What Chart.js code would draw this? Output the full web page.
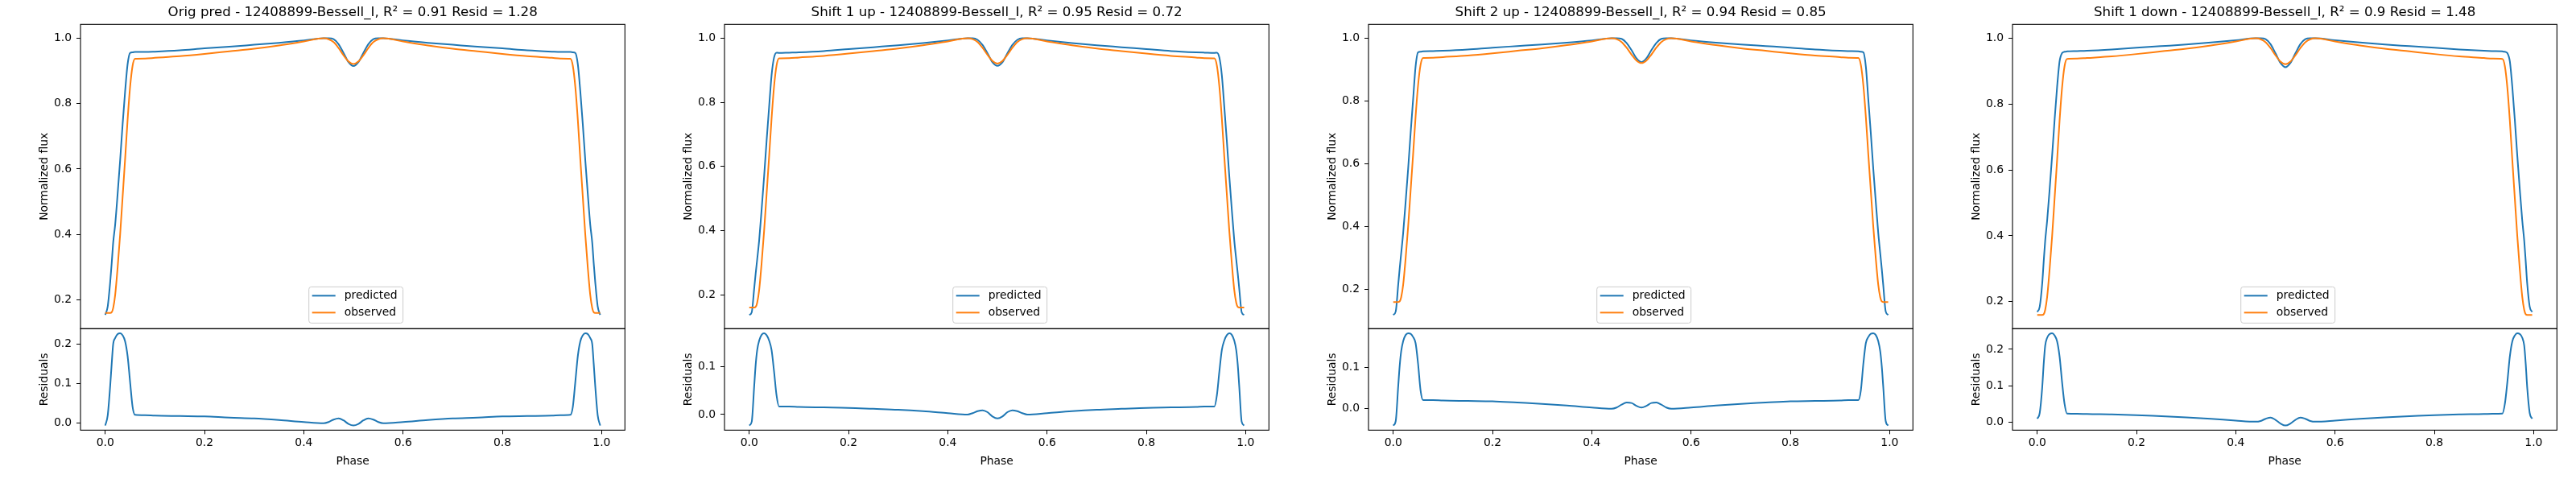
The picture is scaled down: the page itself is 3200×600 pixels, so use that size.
<!DOCTYPE html>
<html>
<head>
<meta charset="utf-8">
<script src="https://cdn.jsdelivr.net/npm/chart.js@4.4.1/dist/chart.umd.min.js"></script>
<style>
  html, body { margin: 0; padding: 0; background: #fff; }
  #wrap { position: relative; width: 3200px; height: 600px; }
  .panel { position: absolute; top: 0; width: 800px; height: 600px; }
</style>
</head>
<body>
<div id="wrap">
  <div class="panel" style="left:0px"><canvas id="c0" width="800" height="600"></canvas></div>
  <div class="panel" style="left:800px"><canvas id="c1" width="800" height="600"></canvas></div>
  <div class="panel" style="left:1600px"><canvas id="c2" width="800" height="600"></canvas></div>
  <div class="panel" style="left:2400px"><canvas id="c3" width="800" height="600"></canvas></div>
</div>
<script>
const phase = [0, 0.005, 0.01, 0.013, 0.016, 0.02, 0.025, 0.03, 0.035, 0.04, 0.045, 0.05, 0.055, 0.06,
  0.08, 0.1, 0.15, 0.2, 0.25, 0.3, 0.35, 0.4, 0.44, 0.45, 0.46, 0.47, 0.48, 0.49,
  0.5,
  0.51, 0.52, 0.53, 0.54, 0.55, 0.56, 0.6, 0.65, 0.7, 0.75, 0.8, 0.85, 0.9, 0.917,
  0.937, 0.942, 0.947, 0.952, 0.957, 0.962, 0.967, 0.972, 0.977, 0.981, 0.984, 0.987, 0.992, 0.997]

const observed = [0.16, 0.16, 0.16, 0.162, 0.175, 0.215, 0.30, 0.40, 0.515, 0.63, 0.75, 0.85, 0.915, 0.937,
  0.938, 0.940, 0.945, 0.952, 0.960, 0.968, 0.978, 0.990, 1.0, 0.997, 0.988, 0.970, 0.948, 0.929,
  0.921,
  0.929, 0.948, 0.970, 0.988, 0.997, 1.0, 0.990, 0.978, 0.968, 0.960, 0.952, 0.945, 0.940, 0.938,
  0.937, 0.915, 0.85, 0.75, 0.63, 0.515, 0.40, 0.30, 0.215, 0.175, 0.162, 0.16, 0.16, 0.16]

const predOrig = [0.154, 0.18, 0.255, 0.312, 0.375, 0.43, 0.525, 0.627, 0.737, 0.837, 0.92, 0.955, 0.957, 0.958,
  0.958, 0.959, 0.963, 0.969, 0.974, 0.980, 0.986, 0.993, 1.0, 1.0, 0.997, 0.982, 0.955, 0.927,
  0.915,
  0.927, 0.955, 0.982, 0.997, 1.0, 1.0, 0.993, 0.986, 0.980, 0.974, 0.969, 0.963, 0.959, 0.958,
  0.958, 0.957, 0.955, 0.92, 0.837, 0.737, 0.627, 0.525, 0.43, 0.375, 0.312, 0.255, 0.18, 0.154]

const residOrig = [-0.006, 0.02, 0.095, 0.15, 0.2, 0.215, 0.225, 0.227, 0.222, 0.207, 0.17, 0.105, 0.042, 0.021,
  0.02, 0.019, 0.018, 0.017, 0.014, 0.012, 0.008, 0.003, 0.0, 0.003, 0.009, 0.012, 0.007, -0.002,
  -0.006,
  -0.002, 0.007, 0.012, 0.009, 0.003, 0.0, 0.003, 0.008, 0.012, 0.014, 0.017, 0.018, 0.019, 0.02,
  0.021, 0.042, 0.105, 0.17, 0.207, 0.222, 0.227, 0.225, 0.215, 0.2, 0.15, 0.095, 0.02, -0.006]

const predUp1 = [0.137, 0.145, 0.22, 0.267, 0.31, 0.37, 0.467, 0.57, 0.681, 0.785, 0.885, 0.94, 0.955, 0.954,
  0.955, 0.956, 0.96, 0.966, 0.972, 0.978, 0.985, 0.993, 1.0, 1.0, 0.995, 0.979, 0.953, 0.925,
  0.914,
  0.925, 0.953, 0.979, 0.995, 1.0, 1.0, 0.993, 0.985, 0.978, 0.972, 0.966, 0.96, 0.956, 0.955,
  0.954, 0.955, 0.94, 0.885, 0.785, 0.681, 0.57, 0.467, 0.37, 0.31, 0.267, 0.22, 0.145, 0.137]

const residUp1 = [-0.023, -0.015, 0.06, 0.105, 0.135, 0.155, 0.167, 0.17, 0.166, 0.155, 0.135, 0.09, 0.04, 0.017,
  0.017, 0.016, 0.015, 0.014, 0.012, 0.010, 0.007, 0.003, 0.0, 0.003, 0.007, 0.009, 0.005, -0.004,
  -0.008,
  -0.004, 0.005, 0.009, 0.007, 0.003, 0.0, 0.003, 0.007, 0.010, 0.012, 0.014, 0.015, 0.016, 0.017,
  0.017, 0.04, 0.09, 0.135, 0.155, 0.166, 0.17, 0.167, 0.155, 0.135, 0.105, 0.06, -0.015, -0.023]

const predUp2 = [0.119, 0.13, 0.215, 0.267, 0.315, 0.38, 0.48, 0.584, 0.698, 0.805, 0.91, 0.955, 0.957, 0.958,
  0.959, 0.96, 0.964, 0.97, 0.975, 0.98, 0.986, 0.993, 1.0, 1.0, 0.998, 0.985, 0.962, 0.936,
  0.924,
  0.936, 0.962, 0.985, 0.998, 1.0, 1.0, 0.993, 0.986, 0.98, 0.975, 0.97, 0.964, 0.96, 0.959,
  0.958, 0.957, 0.955, 0.91, 0.805, 0.698, 0.584, 0.48, 0.38, 0.315, 0.267, 0.215, 0.13, 0.119]

const residUp2 = [-0.041, -0.03, 0.055, 0.105, 0.14, 0.165, 0.18, 0.184, 0.183, 0.175, 0.16, 0.11, 0.045, 0.021,
  0.021, 0.02, 0.019, 0.018, 0.015, 0.012, 0.008, 0.003, 0.0, 0.003, 0.01, 0.015, 0.014, 0.007,
  0.003,
  0.007, 0.014, 0.015, 0.01, 0.003, 0.0, 0.003, 0.008, 0.012, 0.015, 0.018, 0.019, 0.02, 0.021,
  0.021, 0.045, 0.11, 0.16, 0.175, 0.183, 0.184, 0.18, 0.165, 0.14, 0.105, 0.055, -0.03, -0.041]

const predDown1 = [0.169, 0.185, 0.255, 0.322, 0.385, 0.447, 0.542, 0.644, 0.753, 0.852, 0.93, 0.955, 0.959, 0.96,
  0.961, 0.962, 0.966, 0.971, 0.976, 0.981, 0.987, 0.994, 1.0, 1.0, 0.997, 0.982, 0.954, 0.925,
  0.912,
  0.925, 0.954, 0.982, 0.997, 1.0, 1.0, 0.994, 0.987, 0.981, 0.976, 0.971, 0.966, 0.962, 0.961,
  0.96, 0.959, 0.955, 0.93, 0.852, 0.753, 0.644, 0.542, 0.447, 0.385, 0.322, 0.255, 0.185, 0.169]

const residDown1 = [0.009, 0.025, 0.095, 0.16, 0.21, 0.232, 0.242, 0.244, 0.238, 0.222, 0.18, 0.11, 0.05, 0.0235,
  0.023, 0.022, 0.021, 0.019, 0.016, 0.013, 0.009, 0.004, 0.001, 0.003, 0.009, 0.0125, 0.006, -0.004,
  -0.0096,
  -0.004, 0.006, 0.0125, 0.009, 0.003, 0.001, 0.004, 0.009, 0.013, 0.016, 0.019, 0.021, 0.022, 0.023,
  0.0235, 0.05, 0.11, 0.18, 0.222, 0.238, 0.244, 0.242, 0.232, 0.21, 0.16, 0.095, 0.025, 0.009]

const panelNames = ['Orig pred', 'Shift 1 up', 'Shift 2 up', 'Shift 1 down']
const starName = '12408899-Bessell_I'
const r2Values = ['0.91', '0.95', '0.94', '0.9']
const residValues = ['1.28', '0.72', '0.85', '1.48']

const phaseTicks = [0, 0.2, 0.4, 0.6, 0.8, 1.0]
const fluxTicks = [0.2, 0.4, 0.6, 0.8, 1.0]
const residTicks = [[0, 0.1, 0.2], [0, 0.1], [0, 0.1], [0, 0.1, 0.2]]

const predicted = [predOrig, predUp1, predUp2, predDown1]
const residuals = [residOrig, residUp1, residUp2, residDown1]

const BLUE = '#1f77b4'
const ORANGE = '#ff7f0e'
const FONT = "'DejaVu Sans', sans-serif"

Chart.defaults.font.family = FONT
Chart.defaults.font.size = 13.9
Chart.defaults.color = '#000'

const toPoints = ys => phase.map((p, i) => ({ x: p, y: ys[i] }))

// matplotlib style 5% autoscale margin
const padRange = arrs => {
  const all = arrs.flat()
  const lo = Math.min(...all)
  const hi = Math.max(...all)
  const m = (hi - lo) * 0.05
  return { min: lo - m, max: hi + m }
}

const fixTicks = vals => scale => { scale.ticks = vals.map(v => ({ value: v })) }

const tickGrid = { drawOnChartArea: false, drawTicks: true, tickLength: 5, color: '#000', lineWidth: 1 }

const framePlugin = {
  id: 'frame',
  afterDatasetsDraw(chart) {
    const { ctx, chartArea } = chart
    ctx.save()
    ctx.strokeStyle = '#000'
    ctx.lineWidth = 1.1
    ;['yTop', 'yBot'].forEach(id => {
      const s = chart.scales[id]
      ctx.strokeRect(chartArea.left, s.top, chartArea.right - chartArea.left, s.bottom - s.top)
    })
    ctx.restore()
  }
}

const legendPlugin = {
  id: 'boxLegend',
  afterDraw(chart) {
    const { ctx, chartArea } = chart
    const s = chart.scales.yTop
    const items = chart.data.datasets.filter(d => d.yAxisID === 'yTop')
    ctx.save()
    ctx.font = '13.9px ' + FONT
    const textW = Math.max(...items.map(d => ctx.measureText(d.label).width))
    const w = 4 + 29 + 11 + textW + 7
    const h = 45
    const x0 = (chartArea.left + chartArea.right) / 2 - w / 2 + 4
    const y0 = s.bottom - 7 - h
    ctx.beginPath()
    ctx.roundRect(x0, y0, w, h, 3)
    ctx.fillStyle = 'rgba(255,255,255,0.8)'
    ctx.fill()
    ctx.strokeStyle = '#cccccc'
    ctx.lineWidth = 1
    ctx.stroke()
    items.forEach((d, i) => {
      const y = y0 + 11 + i * 21
      ctx.beginPath()
      ctx.moveTo(x0 + 4, y)
      ctx.lineTo(x0 + 33, y)
      ctx.strokeStyle = d.borderColor
      ctx.lineWidth = 2
      ctx.stroke()
      ctx.fillStyle = '#000'
      ctx.textBaseline = 'middle'
      ctx.textAlign = 'left'
      ctx.fillText(d.label, x0 + 44, y)
    })
    ctx.restore()
  }
}

const makePanel = k => {
  const topRange = padRange([predicted[k], observed])
  const botRange = padRange([residuals[k]])
  const xRange = padRange([phase])

  new Chart(document.getElementById('c' + k), {
    type: 'line',
    data: {
      datasets: [
        { label: 'predicted', data: toPoints(predicted[k]), yAxisID: 'yTop', borderColor: BLUE, order: 1 },
        { label: 'observed', data: toPoints(observed), yAxisID: 'yTop', borderColor: ORANGE, order: 0 },
        { label: 'residuals', data: toPoints(residuals[k]), yAxisID: 'yBot', borderColor: BLUE, order: 2 }
      ]
    },
    options: {
      responsive: false,
      animation: false,
      devicePixelRatio: 1,
      layout: { padding: { left: 43, right: 23.7, top: 0, bottom: 14.65 } },
      elements: {
        line: { borderWidth: 2, cubicInterpolationMode: 'monotone', fill: false },
        point: { radius: 0 }
      },
      plugins: {
        legend: { display: false },
        tooltip: { enabled: false },
        title: {
          display: true,
          fullSize: false,
          text: `${panelNames[k]} - ${starName}, R² = ${r2Values[k]} Resid = ${residValues[k]}`,
          font: { size: 16.67, weight: 'normal' },
          color: '#000',
          padding: { top: 5.7, bottom: 4.6 }
        }
      },
      scales: {
        x: {
          type: 'linear',
          position: 'bottom',
          min: xRange.min,
          max: xRange.max,
          afterBuildTicks: fixTicks(phaseTicks),
          afterFit: s => { s.height = 51 },
          ticks: { callback: v => v.toFixed(1), padding: 3, maxRotation: 0, autoSkip: false },
          grid: tickGrid,
          border: { display: false },
          title: { display: true, text: 'Phase', padding: { top: 0, bottom: 4 } }
        },
        yTop: {
          type: 'linear',
          position: 'left',
          stack: 'panel',
          stackWeight: 3,
          weight: 2,
          min: topRange.min,
          max: topRange.max,
          afterBuildTicks: fixTicks(fluxTicks),
          afterFit: s => { s.width = 57 },
          ticks: { callback: v => v.toFixed(1), padding: 6, autoSkip: false },
          grid: tickGrid,
          border: { display: false },
          title: { display: true, text: 'Normalized flux', padding: { top: 4, bottom: 0 } }
        },
        yBot: {
          type: 'linear',
          position: 'left',
          stack: 'panel',
          stackWeight: 1,
          weight: 1,
          min: botRange.min,
          max: botRange.max,
          afterBuildTicks: fixTicks(residTicks[k]),
          afterFit: s => { s.width = 57 },
          ticks: { callback: v => v.toFixed(1), padding: 6, autoSkip: false },
          grid: tickGrid,
          border: { display: false },
          title: { display: true, text: 'Residuals', padding: { top: 4, bottom: 0 } }
        }
      }
    },
    plugins: [framePlugin, legendPlugin]
  })
}

panelNames.forEach((_, k) => makePanel(k))
</script>
</body>
</html>
